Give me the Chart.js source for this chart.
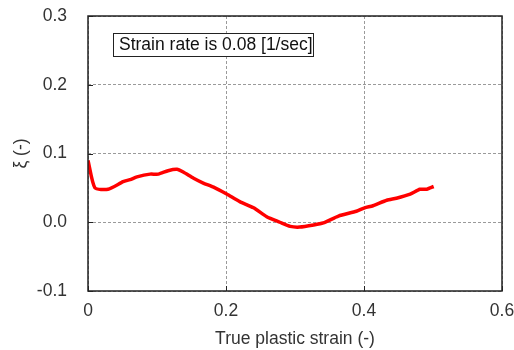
<!DOCTYPE html>
<html>
<head>
<meta charset="utf-8">
<script src="https://cdn.jsdelivr.net/npm/chart.js@4.4.1/dist/chart.umd.min.js"></script>
<style>
    html, body { margin: 0; padding: 0; background: #fff; }
    #wrap { width: 514px; height: 350px; }
</style>
</head>
<body>
<div id="wrap"><canvas id="chart" width="514" height="350"></canvas></div>
<script>
// Data
const strain = [0, 0.010, 0.029, 0.051, 0.061, 0.071, 0.090, 0.102, 0.116, 0.129, 0.138, 0.153,
    0.167, 0.182, 0.201, 0.220, 0.240, 0.259, 0.278, 0.293, 0.307, 0.327, 0.341, 0.363,
    0.389, 0.401, 0.413, 0.433, 0.447, 0.467, 0.481, 0.491, 0.501];
const xi = [0.090, 0.050, 0.048, 0.059, 0.062, 0.066, 0.070, 0.070, 0.075, 0.077, 0.073, 0.064,
    0.057, 0.051, 0.041, 0.030, 0.021, 0.008, 0.000, -0.006, -0.007, -0.004, -0.001, 0.009,
    0.016, 0.021, 0.024, 0.032, 0.035, 0.041, 0.048, 0.048, 0.052];
const xTicks = [0, 0.2, 0.4, 0.6];
const yTicks = [-0.1, 0.0, 0.1, 0.2, 0.3];
const noteText = 'Strain rate is 0.08 [1/sec]';

const FONT = '"Liberation Sans", Arial, sans-serif';
const FONT_SIZE = 17.5;
const TEXT_COLOR = '#333';

// Plot frame, inner ticks and the note box
const framePlugin = {
    id: 'frame',
    afterDraw(chart) {
        const ctx = chart.ctx;
        const a = chart.chartArea;
        const xs = chart.scales.x;
        const ys = chart.scales.y;
        ctx.save();
        ctx.strokeStyle = '#222';
        ctx.lineWidth = 1.5;
        ctx.strokeRect(a.left, a.top, a.right - a.left, a.bottom - a.top);

        ctx.lineWidth = 1;
        ctx.beginPath();
        xTicks.forEach(v => {
            const px = Math.round(xs.getPixelForValue(v)) + 0.5;
            ctx.moveTo(px, a.bottom);
            ctx.lineTo(px, a.bottom - 5);
        });
        yTicks.forEach(v => {
            const py = Math.round(ys.getPixelForValue(v)) + 0.5;
            ctx.moveTo(a.left, py);
            ctx.lineTo(a.left + 5, py);
        });
        ctx.stroke();

        // note box
        ctx.font = FONT_SIZE + 'px ' + FONT;
        ctx.fillStyle = '#fff';
        ctx.fillRect(113, 33.5, 200, 23);
        ctx.strokeStyle = '#222';
        ctx.lineWidth = 1;
        ctx.strokeRect(113.5, 33.5, 200, 23);
        ctx.fillStyle = '#111';
        ctx.textBaseline = 'middle';
        ctx.textAlign = 'left';
        ctx.fillText(noteText, 119, 45.5);
        ctx.restore();
    }
};

// keep the layout from adding room for overhanging tick labels
function fixPadding(scale) {
    scale.paddingTop = 0;
    scale.paddingBottom = 0;
    scale.paddingLeft = 0;
    scale.paddingRight = 0;
}

const ctx = document.getElementById('chart').getContext('2d');
new Chart(ctx, {
    type: 'scatter',
    data: {
        datasets: [{
            data: strain.map((x, i) => ({ x: x, y: xi[i] })),
            showLine: true,
            borderColor: '#ff0000',
            borderWidth: 3.5,
            pointRadius: 0,
            tension: 0.2,
            fill: false
        }]
    },
    options: {
        responsive: false,
        animation: false,
        devicePixelRatio: 1,
        layout: { padding: { left: 0, right: 12, top: 16, bottom: 0 } },
        plugins: {
            legend: { display: false },
            tooltip: { enabled: false }
        },
        scales: {
            x: {
                type: 'linear',
                min: 0,
                max: 0.6,
                afterFit(scale) { scale.height = 59; fixPadding(scale); },
                afterBuildTicks(scale) { scale.ticks = xTicks.map(v => ({ value: v })); },
                grid: {
                    color: '#9a9a9a',
                    lineWidth: 1,
                    drawTicks: false
                },
                border: { display: false, dash: [3, 2] },
                ticks: {
                    padding: 10,
                    color: TEXT_COLOR,
                    font: { family: FONT, size: FONT_SIZE },
                    callback: v => v === 0 ? '0' : v.toFixed(1)
                },
                title: {
                    display: true,
                    text: 'True plastic strain (-)',
                    color: TEXT_COLOR,
                    font: { family: FONT, size: FONT_SIZE },
                    padding: { top: 0, bottom: 0 }
                }
            },
            y: {
                type: 'linear',
                min: -0.1,
                max: 0.3,
                afterFit(scale) { scale.width = 88; fixPadding(scale); },
                afterBuildTicks(scale) { scale.ticks = yTicks.map(v => ({ value: v })); },
                grid: {
                    color: '#9a9a9a',
                    lineWidth: 1,
                    drawTicks: false
                },
                border: { display: false, dash: [3, 2] },
                ticks: {
                    padding: 21,
                    color: TEXT_COLOR,
                    font: { family: FONT, size: FONT_SIZE },
                    callback: v => v.toFixed(1)
                },
                title: {
                    display: true,
                    text: 'ξ (-)',
                    color: TEXT_COLOR,
                    font: { family: FONT, size: FONT_SIZE },
                    padding: { top: 11, bottom: 0 }
                }
            }
        }
    },
    plugins: [framePlugin]
});
</script>
</body>
</html>
